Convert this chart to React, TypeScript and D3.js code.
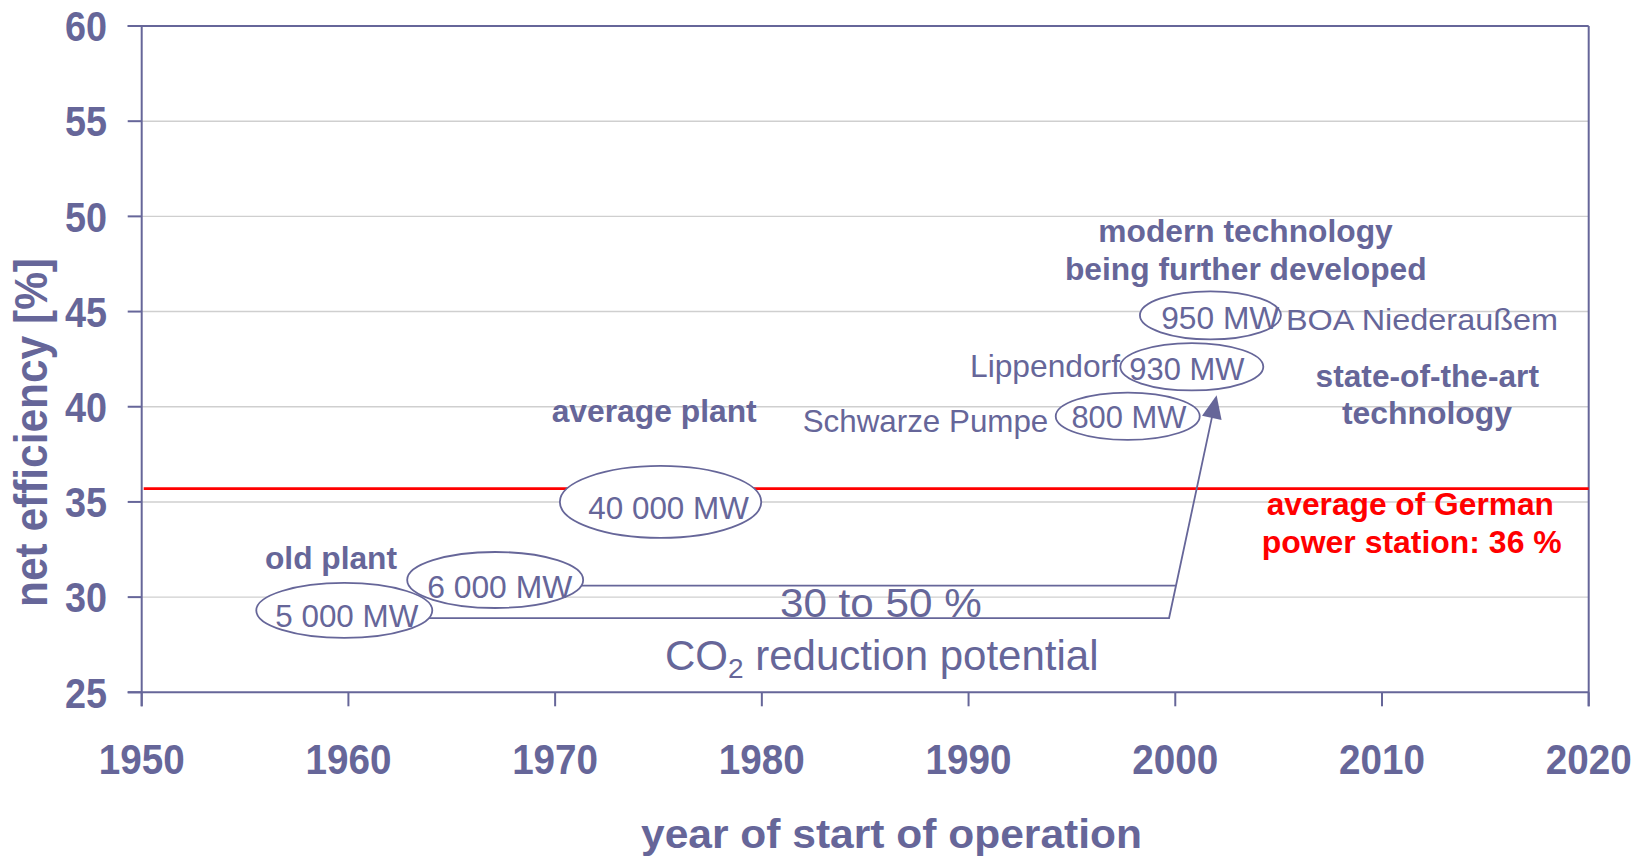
import React from 'react';
import * as d3 from 'd3';

// ---- data ----
const yearTicks = [1950, 1960, 1970, 1980, 1990, 2000, 2010, 2020];
const effTicks = [25, 30, 35, 40, 45, 50, 55, 60];
const plantLabels = ['5 000 MW', '6 000 MW', '40 000 MW', '800 MW', '930 MW', '950 MW'];
const plantYears = [1959.8, 1967.1, 1975.1, 1997.7, 2000.8, 2001.7];
const plantEff = [29.3, 30.9, 35.0, 39.5, 42.1, 44.8];
const germanAverage = 35.7;
// reduction potential path (from 5 000 MW plant, arrow to modern plants)
const lowerPathYears = [1999.7, 2002.0];
const lowerPathEff = [28.9, 40.6];
const upperLineEff = 30.6;

// ---- style ----
const W = 1643;
const H = 858;
const C = '#666699';
const RED = '#ff0000';
const FONT = '"Liberation Sans", Arial, Helvetica, sans-serif';
const ellRx = [88, 88, 100.7, 72, 71.5, 70.5];
const ellRy = [27.5, 28, 36, 23.7, 23.7, 24];
const lblDx = [2.5, 4.5, 8, 1.2, -5, 9.8];
const lblDy = [16.5, 18, 17.3, 11.3, 13, 14];
const lblW = [143, 145, 160.6, 115, 115, 118];
const lblSize = [32, 32, 32, 31, 31, 31];

const x = d3.scaleLinear().domain([1950, 2020]).range([141.7, 1588.7]);
const y = d3.scaleLinear().domain([25, 60]).range([692.3, 26]);

function T(props: any) {
  const { x: tx, y: ty, size, w, anchor = 'start', weight = 'normal', fill = C, children, transform } = props;
  return (
    <text
      x={tx}
      y={ty}
      transform={transform}
      fontSize={size}
      fontWeight={weight}
      fill={fill}
      textAnchor={anchor}
      fontFamily={FONT}
      textLength={w}
      lengthAdjust="spacingAndGlyphs"
    >
      {children}
    </text>
  );
}

export default function App() {
  const x0 = x(1950);
  const x1 = x(2020);
  const yTop = y(60);
  const yBot = y(25);

  const cx = plantYears.map((d) => x(d));
  const cy = plantEff.map((d) => y(d));

  const lowY = y(lowerPathEff[0]);
  const lowStartX = cx[0] + ellRx[0] * Math.sqrt(Math.max(0, 1 - ((lowY - cy[0]) / ellRy[0]) ** 2));
  const cornerX = x(lowerPathYears[0]);
  const tipX = x(lowerPathYears[1]);
  const tipY = y(lowerPathEff[1]);
  const upY = y(upperLineEff);
  const upStartX = cx[1] + ellRx[1] * Math.sqrt(Math.max(0, 1 - ((upY - cy[1]) / ellRy[1]) ** 2));
  const upEndX = cornerX + ((tipX - cornerX) * (lowY - upY)) / (lowY - tipY);

  const dx = tipX - cornerX;
  const dy = tipY - lowY;
  const len = Math.hypot(dx, dy);
  const ux = dx / len;
  const uy = dy / len;
  const headL = 23;
  const headW = 10;
  const bx = tipX - ux * headL;
  const by = tipY - uy * headL;
  const head = `M${tipX},${tipY} L${bx - uy * headW},${by + ux * headW} L${bx + uy * headW},${by - ux * headW} Z`;
  const shaftEndX = tipX - ux * (headL - 2);
  const shaftEndY = tipY - uy * (headL - 2);

  const line = d3.line<[number, number]>();

  return (
    <svg
      width={W}
      height={H}
      viewBox={`0 0 ${W} ${H}`}
      style={{ position: 'absolute', left: 0, top: 0, display: 'block', background: '#fff' }}
    >
      <rect x={0} y={0} width={W} height={H} fill="#fff" />
      {effTicks
        .filter((t) => t !== 25 && t !== 60)
        .map((t) => (
          <line key={'g' + t} x1={x0} x2={x1} y1={y(t)} y2={y(t)} stroke="#cfcfcf" strokeWidth={1.4} />
        ))}

      <line x1={x0} x2={x0} y1={yTop} y2={yBot + 14} stroke={C} strokeWidth={2} />
      <line x1={x1} x2={x1} y1={yTop} y2={yBot + 14} stroke={C} strokeWidth={2} />
      <line x1={x0 - 14} x2={x1} y1={yTop} y2={yTop} stroke={C} strokeWidth={2} />
      <line x1={x0 - 14} x2={x1} y1={yBot} y2={yBot} stroke={C} strokeWidth={2} />
      {effTicks.map((t) => (
        <line key={'yt' + t} x1={x0 - 14} x2={x0} y1={y(t)} y2={y(t)} stroke={C} strokeWidth={2} />
      ))}
      {yearTicks.map((t) => (
        <line key={'xt' + t} x1={x(t)} x2={x(t)} y1={yBot} y2={yBot + 14} stroke={C} strokeWidth={2} />
      ))}

      {effTicks.map((t) => (
        <T key={'yl' + t} x={107} y={y(t) + 15.3} size={42} weight="bold" anchor="end" w={42}>
          {String(t)}
        </T>
      ))}
      {yearTicks.map((t) => (
        <T key={'xl' + t} x={x(t)} y={774} size={42} weight="bold" anchor="middle" w={86}>
          {String(t)}
        </T>
      ))}

      <T transform="translate(46.7,432.5) rotate(-90)" x={0} y={0} size={47} weight="bold" anchor="middle" w={349}>
        net efficiency [%]
      </T>
      <T x={891.5} y={848} size={41} weight="bold" anchor="middle" w={501}>
        year of start of operation
      </T>

      <line x1={x0 + 2} x2={x1} y1={y(germanAverage)} y2={y(germanAverage)} stroke={RED} strokeWidth={2.6} />

      <path
        d={line([
          [lowStartX, lowY],
          [cornerX, lowY],
          [shaftEndX, shaftEndY],
        ]) as string}
        fill="none"
        stroke={C}
        strokeWidth={1.8}
      />
      <line x1={upStartX} x2={upEndX} y1={upY} y2={upY} stroke={C} strokeWidth={1.8} />
      <path d={head} fill={C} />

      {plantLabels.map((lab, i) => (
        <g key={'p' + i}>
          <ellipse cx={cx[i]} cy={cy[i]} rx={ellRx[i]} ry={ellRy[i]} fill="#fff" stroke={C} strokeWidth={1.8} />
          <T x={cx[i] + lblDx[i]} y={cy[i] + lblDy[i]} size={lblSize[i]} anchor="middle" w={lblW[i]}>
            {lab}
          </T>
        </g>
      ))}

      <T x={265} y={569.3} size={31} weight="bold" w={132}>old plant</T>
      <T x={551.7} y={421.7} size={31} weight="bold" w={205}>average plant</T>
      <T x={802.7} y={431.7} size={32} w={245.6}>Schwarze Pumpe</T>
      <T x={970} y={376.7} size={32} w={150}>Lippendorf</T>
      <T x={1286} y={330} size={30} w={272}>BOA Niederaußem</T>
      <T x={1245.5} y={241.7} size={31.5} weight="bold" anchor="middle" w={294.4}>modern technology</T>
      <T x={1245.8} y={280} size={31.5} weight="bold" anchor="middle" w={361.7}>being further developed</T>
      <T x={1427.3} y={386.7} size={31.5} weight="bold" anchor="middle" w={223.4}>state-of-the-art</T>
      <T x={1427} y={424} size={31.5} weight="bold" anchor="middle" w={170}>technology</T>
      <T x={1410.3} y={515} size={31.5} weight="bold" anchor="middle" w={287.3} fill={RED}>average of German</T>
      <T x={1411.7} y={552.7} size={31.5} weight="bold" anchor="middle" w={300} fill={RED}>power station: 36 %</T>
      <T x={880.8} y={616.7} size={40} anchor="middle" w={201.7}>30 to 50 %</T>
      <text x={665} y={670} fontSize={42} fill={C} fontFamily={FONT}>
        CO
        <tspan fontSize={28} dy={8.3}>2</tspan>
        <tspan dy={-8.3}> reduction potential</tspan>
      </text>
    </svg>
  );
}
